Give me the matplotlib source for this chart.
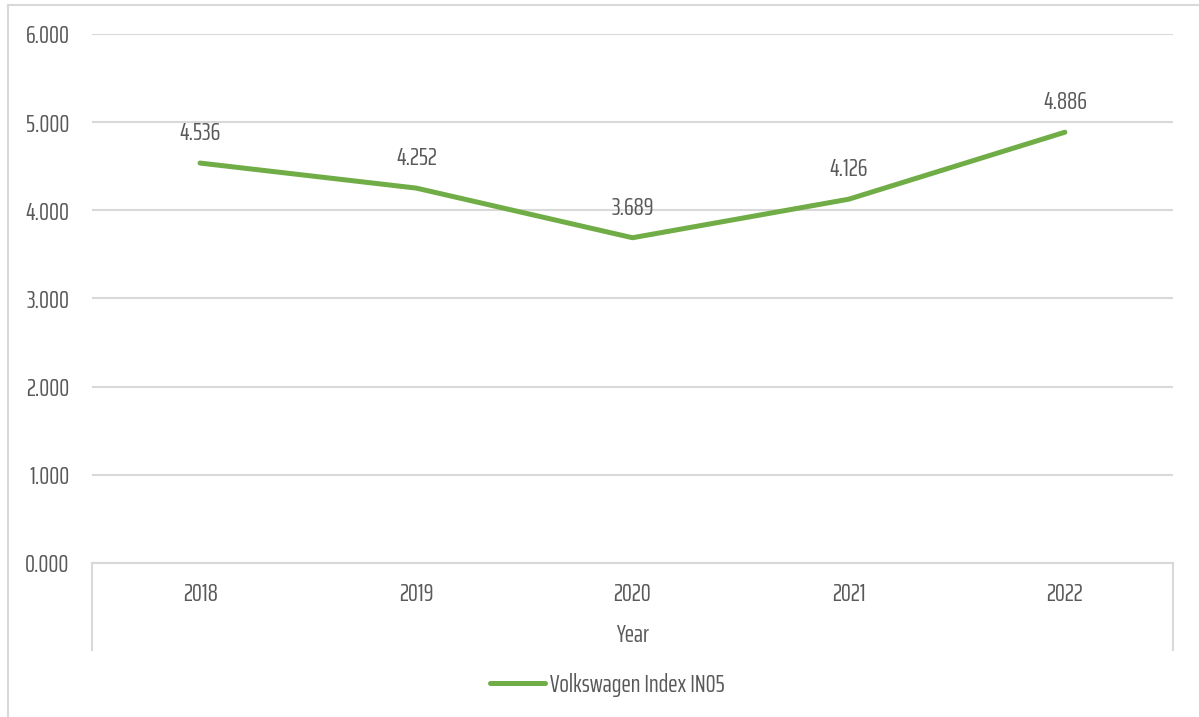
import matplotlib
matplotlib.use("Agg")
import matplotlib.pyplot as plt
from matplotlib.lines import Line2D

years = ["2018", "2019", "2020", "2021", "2022"]
index_values = [4.536, 4.252, 3.689, 4.126, 4.886]
series_name = "Volkswagen Index IN05"
y_ticks = [0, 1, 2, 3, 4, 5, 6]

plt.rcParams["font.family"] = ["Saira ExtraCondensed", "DejaVu Sans"]
txt = "#595959"
grid = "#D9D9D9"
green = "#70AD47"
fs = 18

fig = plt.figure(figsize=(11.99, 7.17), dpi=100)
ax = fig.add_axes([0.0767, 0.2148, 0.9016, 0.7378])

x = list(range(len(years)))
line, = ax.plot(x, index_values, color=green, lw=3.6, solid_capstyle="round",
                label=series_name, zorder=3)

for xi, v in zip(x, index_values):
    ax.annotate(f"{v:.3f}", (xi, v), xytext=(0, 13), textcoords="offset points",
                ha="center", va="bottom", fontsize=fs, color=txt)

ax.set_xlim(-0.5, len(years) - 0.5)
ax.set_ylim(0, 6)
ax.set_yticks(y_ticks)
ax.set_yticklabels([f"{t:.3f}" for t in y_ticks])
ax.set_xticks(x)
ax.set_xticklabels(years)
ax.tick_params(axis="y", length=0, pad=16, labelsize=fs, labelcolor=txt)
ax.tick_params(axis="x", length=0, pad=14, labelsize=fs, labelcolor=txt)
ax.grid(axis="y", color=grid, lw=1.5)
ax.set_axisbelow(True)
for s in ["top", "right", "left"]:
    ax.spines[s].set_visible(False)
ax.spines["bottom"].set_color(grid)
ax.spines["bottom"].set_linewidth(1.5)

# category group separators below the axis
for xa in (0, 1):
    ax.plot([xa, xa], [0, -0.165], transform=ax.transAxes, color=grid,
            lw=1.5, clip_on=False)
ax.text(0.5, -0.136, "Year", transform=ax.transAxes, ha="center", va="center",
        fontsize=fs, color=txt)

leg = fig.legend(handles=[line], loc="center", bbox_to_anchor=(0.5065, 0.0446),
                 frameon=False, fontsize=fs, handlelength=2.2, handletextpad=0.2)
for t in leg.get_texts():
    t.set_color(txt)

# chart frame
fig.add_artist(Line2D([0.0067, 0.0067], [0, 0.993], color=grid, lw=1.5))
fig.add_artist(Line2D([0.0067, 1], [0.993, 0.993], color=grid, lw=1.5))

fig.savefig("out.png", dpi=100, facecolor="white")
